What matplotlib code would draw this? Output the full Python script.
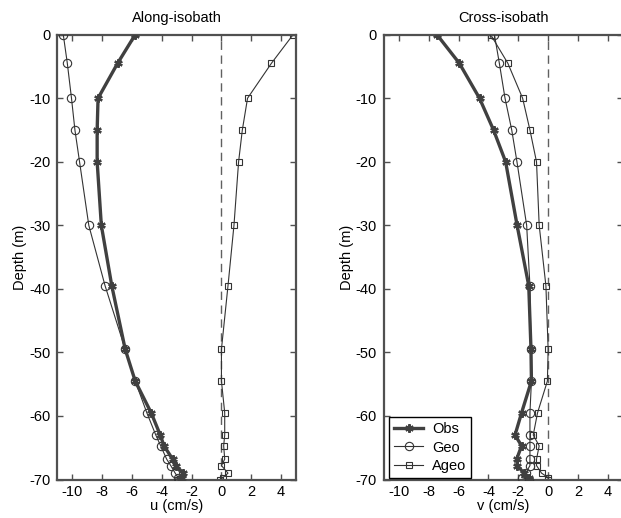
import numpy as np
import matplotlib
matplotlib.use("Agg")
import matplotlib.pyplot as plt

plt.rcParams['font.family'] = ['Liberation Sans', 'DejaVu Sans']
plt.rcParams['axes.unicode_minus'] = False

# sampling depths (m)
depth = [0, -4.5, -10, -15, -20, -30, -39.5, -49.5, -54.5, -59.5, -63,
         -64.7, -66.8, -67.8, -69, -69.7, -70]

# along-isobath velocity u (cm/s)
u_obs = [-5.78, -6.96, -8.27, -8.33, -8.33, -8.05, -7.35, -6.45, -5.78, -4.71,
         -4.1, -3.85, -3.27, -3.05, -2.56, -2.67, -2.8]
u_geo = [-10.6, -10.33, -10.05, -9.82, -9.51, -8.89, -7.8, -6.45, -5.78, -5.0,
         -4.4, -4.07, -3.67, -3.4, -3.1, -2.9, -2.83]
u_ageo = [4.8, 3.35, 1.75, 1.4, 1.15, 0.84, 0.44, 0.0, 0.0, 0.22,
          0.22, 0.15, 0.22, 0.0, 0.44, 0.1, -0.1]

# cross-isobath velocity v (cm/s)
v_obs = [-7.45, -5.95, -4.6, -3.66, -2.85, -2.08, -1.3, -1.15, -1.12, -1.78,
         -2.22, -1.78, -2.11, -2.07, -1.62, -1.3, -1.25]
v_geo = [-3.6, -3.27, -2.89, -2.44, -2.09, -1.44, -1.22, -1.15, -1.12, -1.22,
         -1.22, -1.22, -1.22, -1.22, -1.5, -1.78, -1.29]
v_ageo = [-3.85, -2.7, -1.71, -1.22, -0.78, -0.6, -0.15, 0.0, -0.05, -0.71,
          -1.0, -0.6, -0.78, -0.78, -0.44, 0.0, 0.0]

fig = plt.figure(figsize=(6.21, 5.18), dpi=100)
ax1 = fig.add_axes([0.0923, 0.0743, 0.3844, 0.8587])
ax2 = fig.add_axes([0.6184, 0.0743, 0.3844, 0.8587])

spine_col = '#505050'


def profile(ax, obs, geo, ageo, title, xlabel):
    ax.axvline(0, color='#606060', lw=1.0, ls=(0, (6, 4)), zorder=1)
    ax.plot(ageo, depth, color='#333333', lw=0.8, marker='s', ms=5,
            mfc='none', mec='#333333', mew=0.8, label='Ageo', zorder=2)
    ax.plot(geo, depth, color='#333333', lw=0.8, marker='o', ms=6,
            mfc='none', mec='#333333', mew=0.8, label='Geo', zorder=3)
    ax.plot(obs, depth, color='#404040', lw=2.4, marker=(6, 2, 0), ms=6,
            mec='#404040', mew=1.6, label='Obs', zorder=4)
    ax.set_xlim(-11, 5)
    ax.set_ylim(-70, 0)
    ax.set_xticks(np.arange(-10, 5, 2))
    ax.set_yticks(np.arange(-70, 1, 10))
    ax.tick_params(direction='in', length=4, width=1, color=spine_col,
                   top=True, right=True, labelsize=10.5, pad=5)
    ax.tick_params(axis='x', pad=4)
    for s in ax.spines.values():
        s.set_color(spine_col)
        s.set_linewidth(1.6)
    ax.set_title(title, fontsize=10.5, pad=9)
    ax.set_xlabel(xlabel, fontsize=10.5, labelpad=0)
    ax.set_ylabel('Depth (m)', fontsize=10.5, labelpad=1.5)


profile(ax1, u_obs, u_geo, u_ageo, 'Along-isobath', 'u (cm/s)')
profile(ax2, v_obs, v_geo, v_ageo, 'Cross-isobath', 'v (cm/s)')

handles, labels = ax2.get_legend_handles_labels()
order = [2, 1, 0]
leg = ax2.legend([handles[i] for i in order], [labels[i] for i in order],
                 loc='lower left', bbox_to_anchor=(0.015, 0.0),
                 fontsize=10.5, fancybox=False, edgecolor='black',
                 framealpha=1, borderaxespad=0.1, handlelength=2.0,
                 handletextpad=0.6, labelspacing=0.3, borderpad=0.35)
leg.get_frame().set_linewidth(1.0)

fig.savefig('out.png', dpi=100)
